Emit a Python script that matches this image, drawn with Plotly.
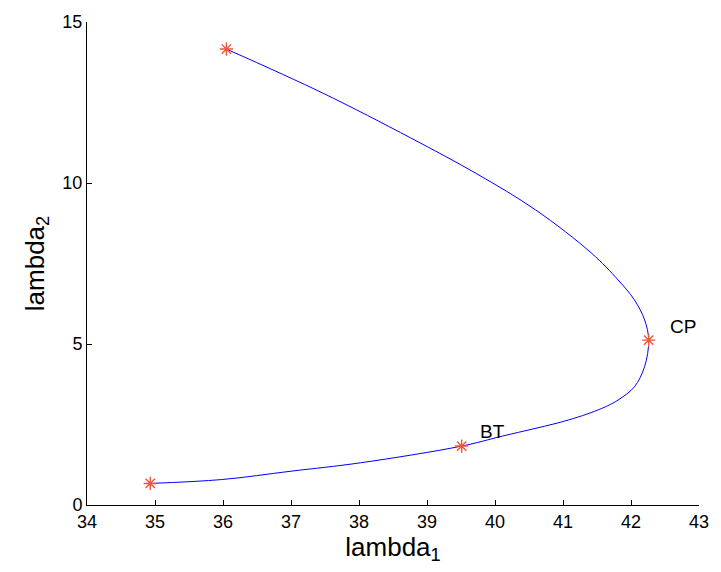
import plotly.graph_objects as go

# Curve (lambda_1, lambda_2), from start point to end point
curve_l1 = [34.93, 35.98, 37.00, 38.02, 39.51, 40.11, 41.08, 41.57, 41.81,
            42.05, 42.20, 42.26, 42.20, 42.05, 41.81, 41.42, 40.60,
            39.72, 38.76, 37.46, 36.05]
curve_l2 = [0.67, 0.79, 1.05, 1.31, 1.83, 2.14, 2.64, 3.00, 3.26,
            3.67, 4.30, 5.12, 5.75, 6.37, 6.99, 7.82, 9.16,
            10.30, 11.40, 12.80, 14.16]

# Special points
pt_l1 = [34.93, 39.51, 42.26, 36.05]
pt_l2 = [0.67, 1.83, 5.12, 14.16]

# Labels
lab_text = ["BT", "CP"]
lab_l1 = [39.96, 42.76]
lab_l2 = [2.27, 5.55]

x_ticks = [34, 35, 36, 37, 38, 39, 40, 41, 42, 43]
y_ticks = [0, 5, 10, 15]

FONT = "Liberation Sans, Arial, Helvetica, sans-serif"

fig = go.Figure()
fig.add_trace(go.Scatter(x=curve_l1, y=curve_l2, mode="lines",
                         line=dict(color="#0000ff", width=1, shape="spline", smoothing=1),
                         showlegend=False, hoverinfo="skip"))
fig.add_trace(go.Scatter(x=pt_l1, y=pt_l2, mode="markers",
                         marker=dict(symbol="asterisk-open", size=11,
                                     line=dict(color="#ff0000", width=1.4)),
                         showlegend=False))
for t, x, y in zip(lab_text, lab_l1, lab_l2):
    fig.add_annotation(x=x, y=y, text=t, showarrow=False,
                       font=dict(family=FONT, size=19, color="black"))

fig.update_layout(
    width=721, height=572,
    margin=dict(l=87, r=16, t=22, b=67),
    paper_bgcolor="white", plot_bgcolor="white",
    font=dict(family=FONT, color="black"),
    xaxis=dict(range=[34, 43], tickvals=x_ticks, ticktext=[str(v) for v in x_ticks],
               showline=True, linecolor="black", linewidth=1, mirror=False,
               ticks="inside", ticklen=5, tickcolor="black", showgrid=False, zeroline=False,
               tickfont=dict(size=18), title=dict(text="lambda<sub>1</sub>", font=dict(size=26), standoff=4)),
    yaxis=dict(range=[0, 15], tickvals=y_ticks, ticktext=[str(v) for v in y_ticks],
               showline=True, linecolor="black", linewidth=1, mirror=False,
               ticks="inside", ticklen=5, tickcolor="black", showgrid=False, zeroline=False,
               tickfont=dict(size=18), title=dict(text="lambda<sub>2</sub>", font=dict(size=26), standoff=10)),
)

fig.write_html("out.html")
